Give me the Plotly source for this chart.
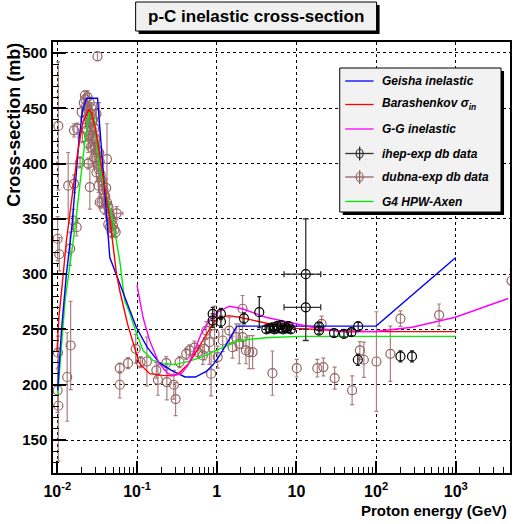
import plotly.graph_objects as go

# ---------------- model curves ----------------
geisha_E = [0.0101, 0.0113, 0.013, 0.0152, 0.0187, 0.0207, 0.0233, 0.032, 0.0456, 0.066, 0.098, 0.134,
            0.19, 0.27, 0.4, 0.54, 0.74, 0.9, 1.08, 1.44, 1.8, 100, 1000]
geisha_sig = [195, 250, 300, 342, 421, 448, 459, 459, 315, 285, 252, 234,
              220, 213, 207, 207, 212, 218, 226, 241, 253, 253, 315]

barash_E = [0.0099, 0.0105, 0.0115, 0.013, 0.015, 0.018, 0.021, 0.025, 0.027, 0.03, 0.035, 0.04, 0.046,
            0.0553, 0.0608, 0.076, 0.0877, 0.106, 0.119, 0.144, 0.211, 0.282, 0.342, 0.456, 0.579,
            0.737, 0.891, 1.03, 1.4, 1.92, 3.0, 5.0, 10, 30, 100, 1000]
barash_sig = [230, 262, 290, 330, 365, 410, 438, 449, 445, 432, 402, 376, 348,
              300, 285, 255, 240, 220, 216, 210, 208.5, 208, 211, 220, 232.5,
              244.6, 255, 260, 262.5, 261, 258, 254.5, 251, 249, 248, 248]

gg_E = [0.1, 0.119, 0.144, 0.19, 0.244, 0.296, 0.36, 0.434, 0.526, 0.638, 0.81, 1.03, 1.44, 2.11,
        4.1, 9.8, 15.8, 41, 98, 282, 985, 4540]
gg_sig = [290, 261, 240, 219, 210, 208.4, 210, 217.5, 231, 246, 258, 265.6, 271, 268.7,
          261, 255, 252, 247.6, 248.2, 252, 261, 278]

hpw_E = [0.0101, 0.0113, 0.0125, 0.0145, 0.0167, 0.0195, 0.0223, 0.0255, 0.029, 0.034, 0.042, 0.05,
         0.0608, 0.07, 0.081, 0.099, 0.119, 0.159, 0.211, 0.311, 0.456, 0.737, 1.05, 1.92, 4.1,
         10.8, 100, 1000]
hpw_sig = [190, 235, 276, 310, 342, 385, 421, 448, 440, 395, 370, 348,
           312, 276, 265, 246, 231, 222, 219, 218.4, 221.3, 226.5, 232, 240, 242.5,
           243.7, 243.7, 243.7]

# ---------------- dubna-exp data ----------------
dubna_E = [0.0103, 0.0101, 0.0106, 0.0102, 0.0101, 0.0103, 0.0133, 0.0147, 0.0137, 0.0145,
           0.0159, 0.0175, 0.0162, 0.0178, 0.0162, 0.0193, 0.0207, 0.0202, 0.0222, 0.0256,
           0.031, 0.0335, 0.042, 0.0319, 0.0359, 0.039, 0.0436, 0.0457, 0.048, 0.034,
           0.0608, 0.0608, 0.0772, 0.0964, 0.111, 0.133, 0.175, 0.183, 0.233, 0.237,
           0.29, 0.305, 0.342, 0.415, 0.456, 0.526, 0.58, 0.67, 0.70, 0.74,
           0.81, 0.85, 0.94, 1.03, 1.19, 1.44, 1.58, 1.75, 1.92, 2.11,
           2.11, 2.33, 2.56, 2.82, 5.0, 10.1, 18.3, 20.7, 21.8, 30.2,
           50, 62.5, 70.2, 101, 151, 202, 617, 5000]
dubna_sig = [434, 332, 318, 229, 195, 181, 207, 235.5, 380, 323,
             348.5, 342.5, 430, 431.5, 381.7, 401, 424, 446.5, 461.6, 378.7,
             445, 410, 404, 497, 365, 359, 345, 342.5, 338, 365,
             215, 200, 219.5, 232.5, 220.5, 221, 213, 204.5, 219.5, 202.4,
             200, 187, 220.5, 228, 231, 233.5, 229.5, 226.5, 232.5, 249,
             238.5, 210, 246, 225, 240, 249, 234, 243, 237, 268.7,
             243, 231, 229.5, 229.5, 210.5, 215, 215, 255, 216, 206,
             195, 231, 222.6, 221, 228, 259.7, 263, 294]
dubna_err = [58, 20, 15, 15, 20, 50, 40, 40, 30, 15,
             10, 8, 6, 5, 8, 5, 5, 5, 4, 20,
             10, 45, 32, 4, 5, 5, 5, 5, 5, 5,
             4.5, 12, 5, 13, 5, 22, 7, 14, 6, 16,
             13, 15, 5, 5, 5, 6, 6, 8, 10, 8,
             20, 20, 25, 10, 10, 12, 10, 12, 18, 12,
             10, 12, 15, 15, 20, 8, 8, 7, 8, 10,
             13, 8, 16, 45, 25, 7, 10, 10]

# dense band of dubna points around the peak
band_E = [0.0215, 0.0225, 0.0225, 0.023, 0.0235, 0.0235, 0.024, 0.0245, 0.0245, 0.025, 0.025,
          0.0255, 0.026, 0.0265, 0.0265, 0.027, 0.027, 0.0275, 0.028, 0.028, 0.0285, 0.029,
          0.029, 0.0295, 0.030, 0.0305, 0.031, 0.031, 0.032, 0.0325, 0.033, 0.033, 0.034,
          0.035, 0.036, 0.037, 0.038, 0.039, 0.040, 0.041, 0.042, 0.043, 0.044, 0.045,
          0.046, 0.047, 0.048, 0.050, 0.052, 0.054]
band_sig = [455, 458, 440, 452, 445, 430, 460, 448, 418, 440, 425,
            455, 436, 445, 415, 430, 450, 438, 425, 440, 420, 432,
            405, 415, 422, 410, 405, 392, 412, 398, 395, 380, 402,
            390, 385, 380, 376, 372, 370, 378, 365, 362, 360, 355,
            352, 350, 348, 344, 340, 338]
band_err = [6, 5, 8, 6, 5, 10, 6, 5, 8, 6, 10,
            5, 6, 8, 10, 6, 5, 8, 6, 5, 10, 6,
            8, 6, 10, 6, 5, 8, 6, 5, 8, 6, 5,
            6, 5, 8, 6, 5, 6, 8, 5, 6, 5, 8,
            6, 5, 6, 8, 6, 5]

# dubna points with horizontal errors
dubx_E = [0.0244, 0.0555]
dubx_sig = [400, 355]
dubx_err = [5, 6]
dubx_xminus = [0.0146, 0.0075]
dubx_xplus = [0.013, 0.011]

# ---------------- ihep-exp data ----------------
ihep_E = [0.89, 0.89, 1.13, 1.13, 2.2, 3.42,
          4.2, 4.6, 5.0, 5.3, 5.7, 6.0, 6.4, 6.8, 7.2, 7.6, 8.0, 8.5,
          19.2, 19.2, 29.6, 39.5, 49, 59.6, 59, 202, 282]
ihep_sig = [264, 258, 264, 257, 260, 265.6,
            250, 251, 252, 250, 253, 251, 254, 250, 252, 251, 253, 250,
            252.7, 249, 246.7, 246, 247.5, 252.7, 222.6, 225.6, 225.6]
ihep_err = [6, 6, 5, 5, 5, 14,
            3, 3, 3, 3, 3, 3, 3, 3, 3, 3, 3, 3,
            3, 3, 3, 3, 3, 4, 5, 5, 5]

ihepx_E = [13.1, 13.1]
ihepx_sig = [300, 270]
ihepx_err = [50, 30]
ihepx_xminus = [6.1, 6.1]
ihepx_xplus = [7.1, 7.1]

# ---------------- tick labels ----------------
x_tickvals = [0.01, 0.1, 1, 10, 100, 1000]
x_ticktext = ["10<sup>-2</sup>", "10<sup>-1</sup>", "1", "10", "10<sup>2</sup>", "10<sup>3</sup>"]
y_tickvals = [150, 200, 250, 300, 350, 400, 450, 500]

legend_labels = ["Geisha inelastic", "Barashenkov σ<sub>in</sub>", "G-G inelastic",
                 "ihep-exp db data", "dubna-exp db data", "G4 HPW-Axen"]

BLUE, RED, MAG, GREEN = "#0000ff", "#ff0000", "#ff00ff", "#00ee00"
DUB, DUBERR = "#946464", "#a98080"
IHEP = "#000000"
FONT = "Liberation Sans, Arial, sans-serif"

fig = go.Figure()


def marker(color):
    return dict(symbol="circle-open", size=9, color=color, line=dict(width=1.2, color=color))


fig.add_trace(go.Scatter(x=dubna_E + band_E, y=dubna_sig + band_sig, mode="markers",
                         marker=marker(DUB),
                         error_y=dict(type="data", array=dubna_err + band_err, color=DUBERR,
                                      thickness=1.2, width=2),
                         showlegend=False))
fig.add_trace(go.Scatter(x=dubx_E, y=dubx_sig, mode="markers", marker=marker(DUB),
                         error_y=dict(type="data", array=dubx_err, color=DUBERR, thickness=1.2, width=2),
                         error_x=dict(type="data", array=dubx_xplus, arrayminus=dubx_xminus,
                                      color=DUBERR, thickness=1.2, width=2),
                         showlegend=False))

for xs, ys, col in [(hpw_E, hpw_sig, GREEN), (geisha_E, geisha_sig, BLUE),
                    (barash_E, barash_sig, RED), (gg_E, gg_sig, MAG)]:
    fig.add_trace(go.Scatter(x=xs, y=ys, mode="lines", line=dict(color=col, width=1.4),
                             showlegend=False))

fig.add_trace(go.Scatter(x=ihep_E, y=ihep_sig, mode="markers", marker=marker(IHEP),
                         error_y=dict(type="data", array=ihep_err, color="#222222", thickness=1.3, width=2),
                         showlegend=False))
fig.add_trace(go.Scatter(x=ihepx_E, y=ihepx_sig, mode="markers", marker=marker(IHEP),
                         error_y=dict(type="data", array=ihepx_err, color="#333333", thickness=1.3, width=3),
                         error_x=dict(type="data", array=ihepx_xplus, arrayminus=ihepx_xminus,
                                      color="#333333", thickness=1.3, width=3),
                         showlegend=False))

# ---------------- geometry helpers (pixels -> paper) ----------------
L, R, T, B = 53, 512, 42, 473
W, H = R - L, B - T


def px(x):
    return (x - L) / W


def py(y):
    return (B - y) / H


shapes = []
annotations = []

# title box
shapes.append(dict(type="rect", xref="paper", yref="paper", x0=px(139), x1=px(381), y0=py(5), y1=py(34),
                   fillcolor="#000000", line=dict(width=0), layer="above"))
shapes.append(dict(type="rect", xref="paper", yref="paper", x0=px(136), x1=px(378), y0=py(2), y1=py(31),
                   fillcolor="#f0f0f0", line=dict(width=1, color="black"), layer="above"))
annotations.append(dict(xref="paper", yref="paper", x=px(257), y=py(16.5), text="p-C inelastic cross-section",
                        showarrow=False, xanchor="center", yanchor="middle",
                        font=dict(family=FONT, size=17, color="black", weight="bold")))

# legend box
shapes.append(dict(type="rect", xref="paper", yref="paper", x0=px(344), x1=px(506), y0=py(71), y1=py(215),
                   fillcolor="#000000", line=dict(width=0), layer="above"))
shapes.append(dict(type="rect", xref="paper", yref="paper", x0=px(341), x1=px(503), y0=py(68), y1=py(212),
                   fillcolor="#f2f2f2", line=dict(width=1, color="black"), layer="above"))
leg_y = [81, 104.5, 129, 153.5, 177, 201.5]
leg_col = [BLUE, RED, MAG, "#333333", DUB, GREEN]
for i, (lab, yy, col) in enumerate(zip(legend_labels, leg_y, leg_col)):
    shapes.append(dict(type="line", xref="paper", yref="paper", x0=px(346.5), x1=px(375), y0=py(yy), y1=py(yy),
                       line=dict(color=col, width=1.3), layer="above"))
    if i in (3, 4):
        shapes.append(dict(type="line", xref="paper", yref="paper", x0=px(361), x1=px(361),
                           y0=py(yy - 7), y1=py(yy + 7), line=dict(color=col, width=1.3), layer="above"))
        shapes.append(dict(type="circle", xref="paper", yref="paper", x0=px(357.5), x1=px(364.5),
                           y0=py(yy - 4.5), y1=py(yy + 4.5), line=dict(color=col, width=1.2),
                           fillcolor="rgba(0,0,0,0)", layer="above"))
    annotations.append(dict(xref="paper", yref="paper", x=px(381.5), y=py(yy), text=lab, showarrow=False,
                            xanchor="left", yanchor="middle",
                            font=dict(family=FONT, size=12, color="black", weight="bold", style="italic")))

# axis titles
annotations.append(dict(xref="paper", yref="paper", x=px(511), y=py(510.5), text="Proton energy (GeV)",
                        showarrow=False, xanchor="right", yanchor="middle",
                        font=dict(family=FONT, size=15, color="black", weight="bold")))
annotations.append(dict(xref="paper", yref="paper", x=px(13.5), y=py(41), text="Cross-section (mb)",
                        showarrow=False, xanchor="center", yanchor="top", textangle=-90,
                        font=dict(family=FONT, size=18, color="black", weight="bold")))

x_minor = [m * 10.0 ** k for k in range(-3, 4) for m in range(2, 10)]

fig.update_layout(
    width=515, height=524,
    margin=dict(l=L, r=515 - R, t=T, b=524 - B, pad=0),
    paper_bgcolor="white", plot_bgcolor="white",
    showlegend=False,
    shapes=shapes, annotations=annotations,
    xaxis=dict(type="log", range=[-2.054, 3.68], tickvals=x_tickvals, ticktext=x_ticktext,
               ticks="inside", ticklen=12, tickwidth=1.5, tickcolor="black",
               showline=True, linecolor="black", linewidth=1.5, mirror=True,
               showgrid=True, gridcolor="black", griddash="dot", gridwidth=1, zeroline=False,
               minor=dict(ticks="inside", ticklen=6, tickwidth=1, tickcolor="black",
                          tickvals=x_minor, showgrid=False),
               tickfont=dict(family=FONT, size=16, color="black", weight="bold"),
               ticklabelstandoff=3),
    yaxis=dict(range=[120.2, 509.9], tickvals=y_tickvals,
               ticks="inside", ticklen=13, tickwidth=2, tickcolor="black",
               showline=True, linecolor="black", linewidth=1.5, mirror=True,
               showgrid=True, gridcolor="black", griddash="dot", gridwidth=1, zeroline=False,
               minor=dict(ticks="inside", ticklen=6, tickwidth=1, tickcolor="black",
                          dtick=10, tick0=0, showgrid=False),
               tickfont=dict(family=FONT, size=15, color="black", weight="bold"),
               ticklabelstandoff=1),
)

fig.write_html("out.html")
